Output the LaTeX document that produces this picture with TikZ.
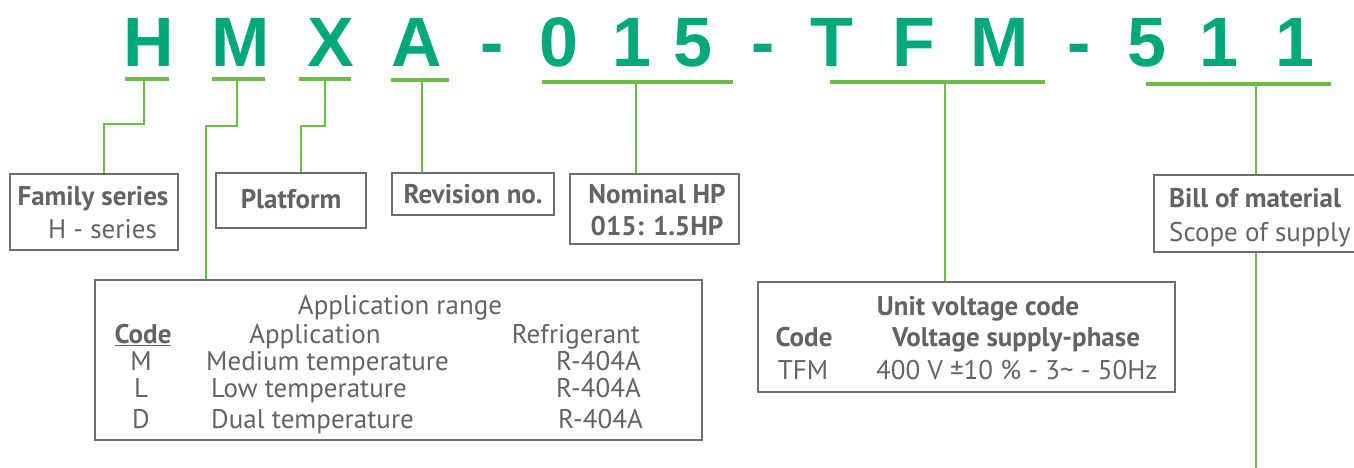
\documentclass[tikz,border=0pt]{standalone}
\usepackage{fontspec}
\setmainfont{PT Sans}
\newfontfamily\titlefont{Liberation Sans}
\definecolor{titlegreen}{RGB}{0,168,122}
\definecolor{linegreen}{RGB}{106,190,70}
\definecolor{textgray}{RGB}{98,99,102}
\definecolor{boxgray}{RGB}{110,110,112}
\begin{document}
\begin{tikzpicture}[x=1pt,y=-1pt,
  title/.style={font=\titlefont\bfseries\fontsize{70}{70}\selectfont, text=titlegreen, anchor=base, inner sep=0pt},
  uline/.style={draw=linegreen, line width=3.5pt},
  conn/.style={draw=linegreen, line width=2.5pt},
  box/.style={draw=boxgray, line width=1.3pt, inner sep=0pt, fill=none},
  txt/.style={font=\fontsize{27}{30}\selectfont, text=textgray, anchor=base, inner sep=0pt},
  btxt/.style={font=\bfseries\fontsize{27}{30}\selectfont, text=textgray, anchor=base, inner sep=0pt}]
\useasboundingbox (0,0) rectangle (1354,468);
\clip (0,0) rectangle (1354,468);
% title letters
\node[title] (lH) at (149,67) {H};
\node[title] (lM) at (241,67) {M};
\node[title] (lX) at (331,67) {X};
\node[title] (lA) at (417,67) {A};
\node[title] (d1) at (492,67) {-};
\node[title] (l0) at (559,67) {0};
\node[title] (l1) at (632,67) {1};
\node[title] (l5) at (693,67) {5};
\node[title] (d2) at (763,67) {-};
\node[title] (lT) at (832,67) {T};
\node[title] (lF) at (914,67) {F};
\node[title] (lM2) at (1000,67) {M};
\node[title] (d3) at (1079,67) {-};
\node[title] (l5b) at (1147,67) {5};
\node[title] (l1b) at (1219,67) {1};
\node[title] (l1c) at (1295,67) {1};
% underlines
\draw[uline] (125,79) -- (169,79);
\draw[uline] (212,79) -- (265,79);
\draw[uline] (299,79) -- (351,79);
\draw[uline] (391,80) -- (449,80);
\draw[uline] (542,82) -- (733,82);
\draw[uline] (830,82) -- (1045,82);
\draw[uline] (1146,84) -- (1331,84);
\coordinate (uH) at (144,79);
\coordinate (uM) at (237,79);
\coordinate (uX) at (325,79);
\coordinate (uA) at (422,80);
\coordinate (uN) at (636,82);
\coordinate (uV) at (945,82);
\coordinate (uB) at (1256,84);
\coordinate (hb) at (104,124);
\coordinate (mb) at (206,126);
\coordinate (xb) at (301,126);
\coordinate (bot) at (1256,470);
% boxes
\node[box, minimum width=168pt, minimum height=76pt] (fam) at (94,212) {};
\node[box, minimum width=150pt, minimum height=55pt] (plat) at (291,200.5) {};
\node[box, minimum width=162pt, minimum height=42pt] (rev) at (473,194) {};
\node[box, minimum width=169pt, minimum height=70pt] (nom) at (654.5,209) {};
\node[box, minimum width=204pt, minimum height=77pt] (bill) at (1256,213.5) {};
\node[box, minimum width=607pt, minimum height=160pt] (app) at (398.5,360) {};
\node[box, minimum width=417pt, minimum height=110pt] (volt) at (966.5,337) {};
% box texts
\node[btxt] (t1) at (93,205) {Family series};
\node[txt] (t2) at (102.5,238) {H - series};
\node[btxt] (t3) at (291,208) {Platform};
\node[btxt] (t4) at (473,203) {Revision no.};
\node[btxt] (t5) at (657,203) {Nominal HP};
\node[btxt] (t6) at (657,235) {015: 1.5HP};
\node[btxt, anchor=base west] (t7) at (1169,207) {Bill of material};
\node[txt, anchor=base west] (t8) at (1169,241) {Scope of supply};
\node[txt] (a0) at (400,314) {Application range};
\node[btxt] (a1) at (143,343) {\underline{Code}};
\node[txt] (a2) at (315,343) {Application};
\node[txt] (a3) at (576,343) {Refrigerant};
\node[txt] (a4) at (141,370) {M};
\node[txt, anchor=base west] (a5) at (206,370) {Medium temperature};
\node[txt, anchor=base west] (a6) at (556,370) {R-404A};
\node[txt] (a7) at (141,397) {L};
\node[txt, anchor=base west] (a8) at (211,397) {Low temperature};
\node[txt, anchor=base west] (a9) at (556,397) {R-404A};
\node[txt] (a10) at (141,428) {D};
\node[txt, anchor=base west] (a11) at (211,428) {Dual temperature};
\node[txt, anchor=base west] (a12) at (558,428) {R-404A};
\node[btxt] (v0) at (978,315) {Unit voltage code};
\node[btxt] (v1) at (804,346) {Code};
\node[btxt] (v2) at (1016,346) {Voltage supply-phase};
\node[txt] (v3) at (803,379) {TFM};
\node[txt, anchor=base west] (v4) at (876,379) {400 V ±10 \% - 3\textasciitilde{} - 50Hz};
% connectors
\draw[conn] (uH) |- (hb) -- (hb |- fam.north);
\draw[conn] (uM) |- (mb) -- (mb |- app.north);
\draw[conn] (uX) |- (xb) -- (xb |- plat.north);
\draw[conn] (uA) -- (uA |- rev.north);
\draw[conn] (uN) -- (uN |- nom.north);
\draw[conn] (uV) -- (uV |- volt.north);
\draw[conn] (uB) -- (uB |- bill.north);
\draw[conn] (uB |- bill.south) -- (bot);
\end{tikzpicture}
\end{document}
